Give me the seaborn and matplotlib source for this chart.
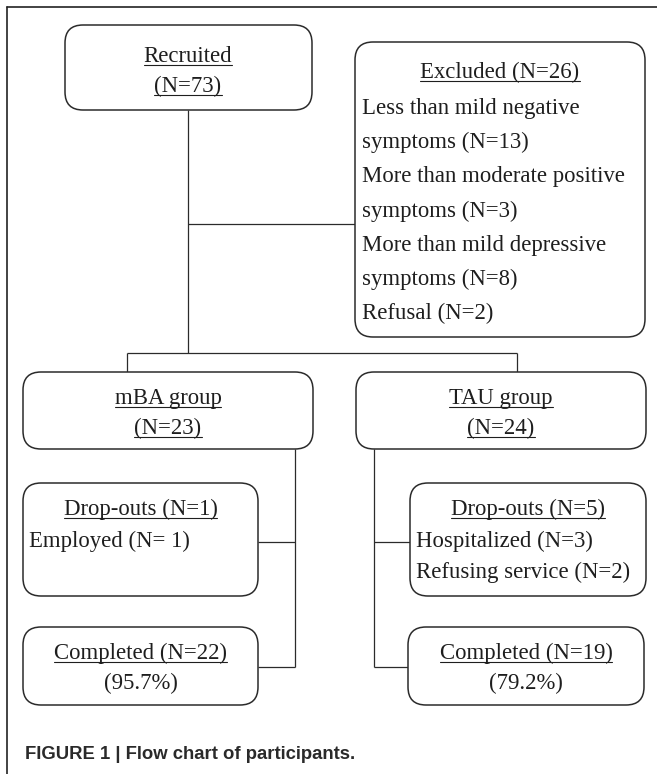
import matplotlib
matplotlib.use("Agg")
import matplotlib.pyplot as plt
from matplotlib.patches import FancyBboxPatch
import seaborn as sns

# valores del diagrama de flujo
recruited_n = 73
excluded_n = 26
excluded_reasons = ["Less than mild negative\nsymptoms", "More than moderate positive\nsymptoms",
                    "More than mild depressive\nsymptoms", "Refusal"]
excluded_counts = [13, 3, 8, 2]
groups = ["mBA group", "TAU group"]
group_n = [23, 24]
dropout_n = [1, 5]
dropout_reasons = [["Employed"], ["Hospitalized", "Refusing service"]]
dropout_counts = [[1], [3, 2]]
completed_n = [22, 19]
completed_pct = [95.7, 79.2]
caption = "FIGURE 1 | Flow chart of participants."

sns.set_theme(style="white")
plt.rcParams["font.family"] = ["Liberation Serif", "DejaVu Serif"]

fig = plt.figure(figsize=(6.57, 7.74), dpi=100)
ax = fig.add_axes([0, 0, 1, 1])
ax.set_xlim(0, 657)
ax.set_ylim(774, 0)
ax.axis("off")

EDGE = "#2b2b2b"
TXT = "#1e1e1e"
FS = 16.4
underlines = []


def box(x0, y0, x1, y1):
    ax.add_patch(FancyBboxPatch((x0, y0), x1 - x0, y1 - y0,
                                boxstyle="round,pad=0,rounding_size=18",
                                fc="white", ec=EDGE, lw=1.1, zorder=3))


def txt(x, y, s, ha="center", under=False):
    t = ax.text(x, y, s, ha=ha, va="baseline", fontsize=FS, color=TXT, zorder=4)
    if under:
        underlines.append((t, y))
    return t


def seg(xs, ys):
    ax.plot(xs, ys, color=EDGE, lw=0.9, zorder=2, solid_capstyle="butt")


# marco de la figura
ax.plot([7, 657], [7, 7], color="#222222", lw=1.2, clip_on=False)
ax.plot([7, 7], [7, 774], color="#222222", lw=1.2, clip_on=False)

# conectores
seg([188, 188], [110, 353])
seg([188, 355], [224, 224])
seg([127, 517], [353, 353])
seg([127, 127], [353, 372])
seg([517, 517], [353, 372])
seg([295, 295], [449, 667])
seg([258, 295], [542, 542])
seg([258, 295], [667, 667])
seg([374, 374], [449, 667])
seg([374, 410], [542, 542])
seg([374, 408], [667, 667])

# reclutados
box(65, 25, 312, 110)
txt(188, 62, "Recruited", under=True)
txt(188, 92, f"(N={recruited_n})", under=True)

# excluidos
box(355, 42, 645, 337)
txt(500, 78, f"Excluded (N={excluded_n})", under=True)
yy = 114
for reason, n in zip(excluded_reasons, excluded_counts):
    lines = f"{reason} (N={n})".split("\n")
    for ln in lines:
        txt(362, yy, ln, ha="left")
        yy += 34.2

# grupos
gx = [(23, 313), (356, 646)]
dx = [(23, 258), (410, 646)]
cx = [(23, 258), (408, 644)]
for i in range(2):
    x0, x1 = gx[i]
    box(x0, 372, x1, 449)
    txt((x0 + x1) / 2, 404, groups[i], under=True)
    txt((x0 + x1) / 2, 434, f"(N={group_n[i]})", under=True)

    x0, x1 = dx[i]
    box(x0, 483, x1, 596)
    txt((x0 + x1) / 2, 515, f"Drop-outs (N={dropout_n[i]})", under=True)
    yy = 547
    for r, n in zip(dropout_reasons[i], dropout_counts[i]):
        lab = f"{r} (N= {n})" if i == 0 else f"{r} (N={n})"
        txt(x0 + 6, yy, lab, ha="left")
        yy += 31

    x0, x1 = cx[i]
    box(x0, 627, x1, 705)
    txt((x0 + x1) / 2, 659, f"Completed (N={completed_n[i]})", under=True)
    txt((x0 + x1) / 2, 689, f"({completed_pct[i]}%)")

ax.text(25, 759, caption, ha="left", va="baseline", fontsize=13.3,
        fontweight="bold", family=["Liberation Sans", "DejaVu Sans"], color="#2a2a2a")

# subrayados
fig.canvas.draw()
r = fig.canvas.get_renderer()
inv = ax.transData.inverted()
for t, y in underlines:
    bb = t.get_window_extent(renderer=r)
    xa = inv.transform((bb.x0, 0))[0]
    xb = inv.transform((bb.x1, 0))[0]
    ax.plot([xa, xb], [y + 3, y + 3], color=TXT, lw=0.8, zorder=4)

fig.savefig("out.png", dpi=100)
